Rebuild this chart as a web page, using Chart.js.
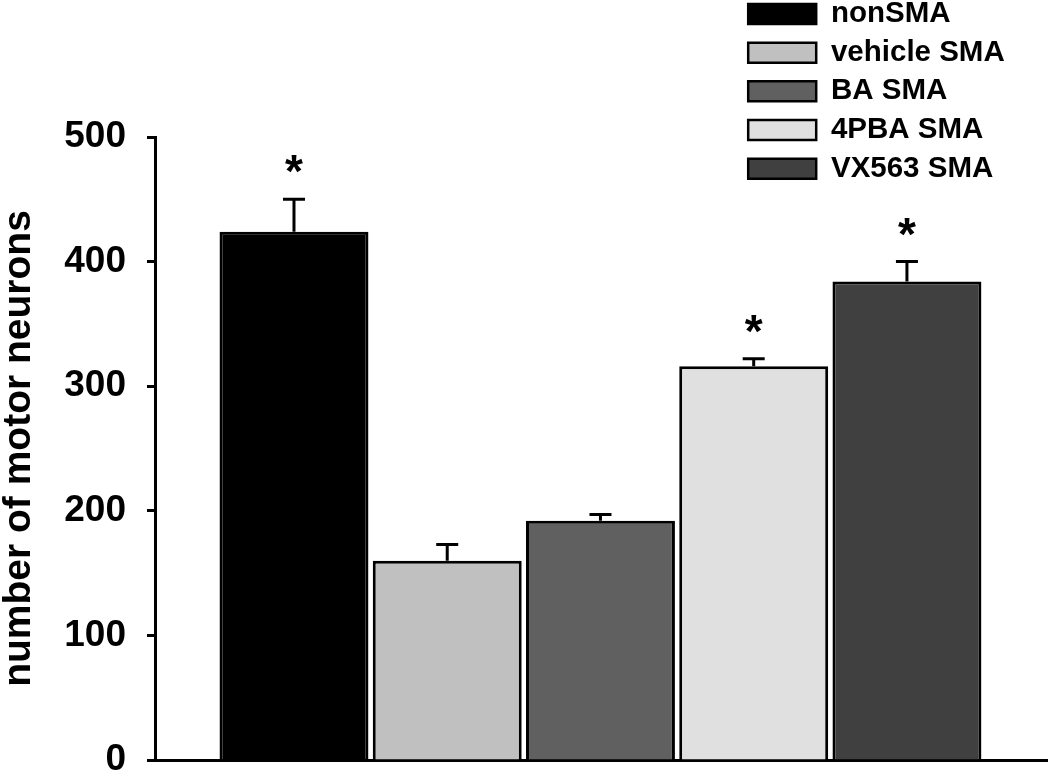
<!DOCTYPE html>
<html>
<head>
<meta charset="utf-8">
<script src="https://cdn.jsdelivr.net/npm/chart.js@4.4.1/dist/chart.umd.min.js"></script>
<style>
  html, body { margin: 0; padding: 0; background: #fff; }
  #wrap { width: 1050px; height: 775px; }
</style>
</head>
<body>
<div id="wrap"><canvas id="chartNeurons"></canvas></div>
<script>
const groups = ['nonSMA', 'vehicle SMA', 'BA SMA', '4PBA SMA', 'VX563 SMA']
const means = [424, 160, 192, 316, 384]
const errors = [26, 13, 5, 6, 16]
const stars = ['*', '', '', '*', '*']
const colors = ['#000000', '#c0c0c0', '#606060', '#e0e0e0', '#404040']
const yTicks = [0, 100, 200, 300, 400, 500]

const FONT = "'Liberation Sans', Arial, sans-serif"
Chart.defaults.font.family = FONT
Chart.defaults.color = '#000'

// error bars (upper half only) + significance stars
const errorBars = {
    id: 'errorBars',
    afterDatasetsDraw(chart) {
        const ctx = chart.ctx
        const y = chart.scales.y
        const meta = chart.getDatasetMeta(0)
        ctx.save()
        ctx.strokeStyle = '#000'
        ctx.fillStyle = '#000'
        ctx.lineWidth = 3
        meta.data.forEach((bar, i) => {
            const top = y.getPixelForValue(means[i] + errors[i])
            ctx.beginPath()
            ctx.moveTo(bar.x, bar.y)
            ctx.lineTo(bar.x, top)
            ctx.moveTo(bar.x - 11, top)
            ctx.lineTo(bar.x + 11, top)
            ctx.stroke()
            if (stars[i]) {
                ctx.font = 'bold 46px ' + FONT
                ctx.textAlign = 'center'
                ctx.textBaseline = 'alphabetic'
                ctx.fillText(stars[i], bar.x, top - 12)
            }
        })
        ctx.restore()
    }
}

// put the legend up in the top right corner
const legendSpot = {
    id: 'legendSpot',
    afterLayout(chart) {
        const lg = chart.legend
        lg.left = 739
        lg.top = -10
        lg.width = 311
        lg.height = 320
        lg.right = lg.left + lg.width
        lg.bottom = lg.top + lg.height
    }
}

new Chart(document.getElementById('chartNeurons'), {
    type: 'bar',
    data: {
        datasets: [{
            label: 'number of motor neurons',
            data: groups.map((g, i) => ({ x: i, y: means[i] })),
            backgroundColor: colors,
            borderColor: '#000',
            borderWidth: 3,
            categoryPercentage: 1,
            barPercentage: 0.972
        }]
    },
    options: {
        responsive: true,
        maintainAspectRatio: false,
        animation: false,
        devicePixelRatio: 1,
        layout: {
            padding: { top: 137, right: 3, bottom: 15, left: 0 }
        },
        plugins: {
            tooltip: { enabled: false },
            legend: {
                position: 'chartArea',
                align: 'start',
                onClick: null,
                labels: {
                    boxWidth: 68,
                    boxHeight: 20,
                    padding: 9.2,
                    font: { size: 29.5, weight: 'bold' },
                    generateLabels: () => groups.map((g, i) => ({
                        text: g,
                        fillStyle: colors[i],
                        strokeStyle: '#000',
                        lineWidth: 2.5,
                        fontColor: '#000',
                        hidden: false,
                        index: i
                    }))
                }
            }
        },
        scales: {
            x: {
                type: 'linear',
                min: -0.907,
                max: 4.914,
                bounds: 'data',
                offset: false,
                afterBuildTicks: s => { s.ticks = groups.map((g, i) => ({ value: i })) },
                ticks: { display: false },
                grid: { display: false, drawTicks: false },
                border: { display: true, color: '#000', width: 3 },
                afterFit: s => {
                    s.height = 0
                    s.paddingLeft = 0
                    s.paddingRight = 0
                }
            },
            y: {
                min: 0,
                max: 500,
                afterBuildTicks: s => { s.ticks = yTicks.map(v => ({ value: v })) },
                ticks: {
                    color: '#000',
                    padding: 21,
                    font: { size: 37, weight: 'bold' }
                },
                grid: {
                    drawOnChartArea: false,
                    drawTicks: true,
                    tickLength: 8,
                    tickWidth: 3,
                    tickColor: '#000'
                },
                border: { display: true, color: '#000', width: 3 },
                title: {
                    display: true,
                    text: 'number of motor neurons',
                    color: '#000',
                    padding: 0,
                    font: { size: 39, weight: 'bold', lineHeight: 1 }
                },
                afterFit: s => {
                    s.width = 155
                    s.paddingTop = 0
                    s.paddingBottom = 0
                }
            }
        }
    },
    plugins: [errorBars, legendSpot]
})
</script>
</body>
</html>
